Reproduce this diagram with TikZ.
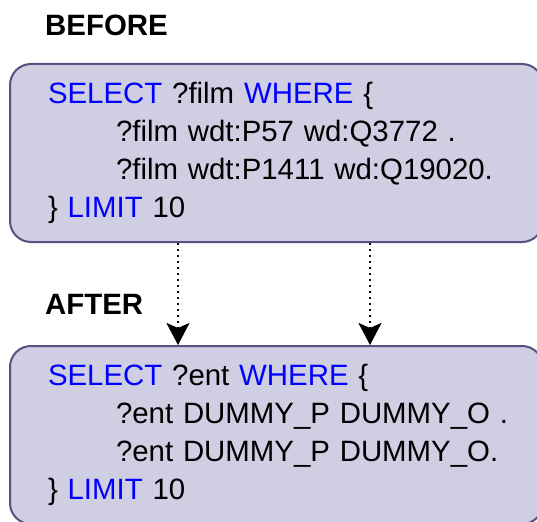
\documentclass[tikz,border=0pt]{standalone}
\usepackage{fontspec}
\setmainfont{Liberation Sans}
\usetikzlibrary{arrows.meta,positioning}

\definecolor{boxfill}{HTML}{D0CEE2}
\definecolor{boxline}{HTML}{56517E}
\definecolor{keyword}{HTML}{0000FF}
\newcommand{\sparqlkw}[1]{\textcolor{keyword}{#1}}
\newcommand{\qline}[1]{\mbox{\hspace*{68pt}#1}}

\begin{document}
\begin{tikzpicture}[
    x=1pt, y=-1pt,
    query/.style={rectangle, rounded corners=21pt, draw=boxline, line width=2pt, fill=boxfill, minimum width=533pt, minimum height=178pt, text width=457pt, inner xsep=38pt, align=left, font=\fontsize{29.4}{37.8}\selectfont},
    label/.style={font=\fontsize{29.4}{35}\selectfont\bfseries, anchor=west, inner sep=0pt},
    flow/.style={-{Stealth[length=22pt,width=23pt,inset=5pt]}, line width=2.4pt, dash pattern=on 2.4pt off 3.6pt}
]
\useasboundingbox (0,0) rectangle (537,521);

% Labels
\node[label] (beforelbl) at (45,25) {BEFORE};
\node[label] (afterlbl) at (45,304) {AFTER};

% Original query
\node[query, anchor=north west] (before) at (9,63) {
    \sparqlkw{SELECT} ?film \sparqlkw{WHERE} \{\\
    \qline{?film wdt:P57 wd:Q3772 .}\\
    \qline{?film wdt:P1411 wd:Q19020.}\\
    \} \sparqlkw{LIMIT} 10
};

% Anonymised query
\node[query, below=102pt of before.south west, anchor=north west] (after) {
    \sparqlkw{SELECT} ?ent \sparqlkw{WHERE} \{\\
    \qline{?ent DUMMY\_P DUMMY\_O .}\\
    \qline{?ent DUMMY\_P DUMMY\_O.}\\
    \} \sparqlkw{LIMIT} 10
};

% Arrows
\foreach \dx in {169, 361} {
    \draw[flow] ([xshift=\dx pt]before.south west) -- ([xshift=\dx pt]after.north west);
}

\end{tikzpicture}
\end{document}
